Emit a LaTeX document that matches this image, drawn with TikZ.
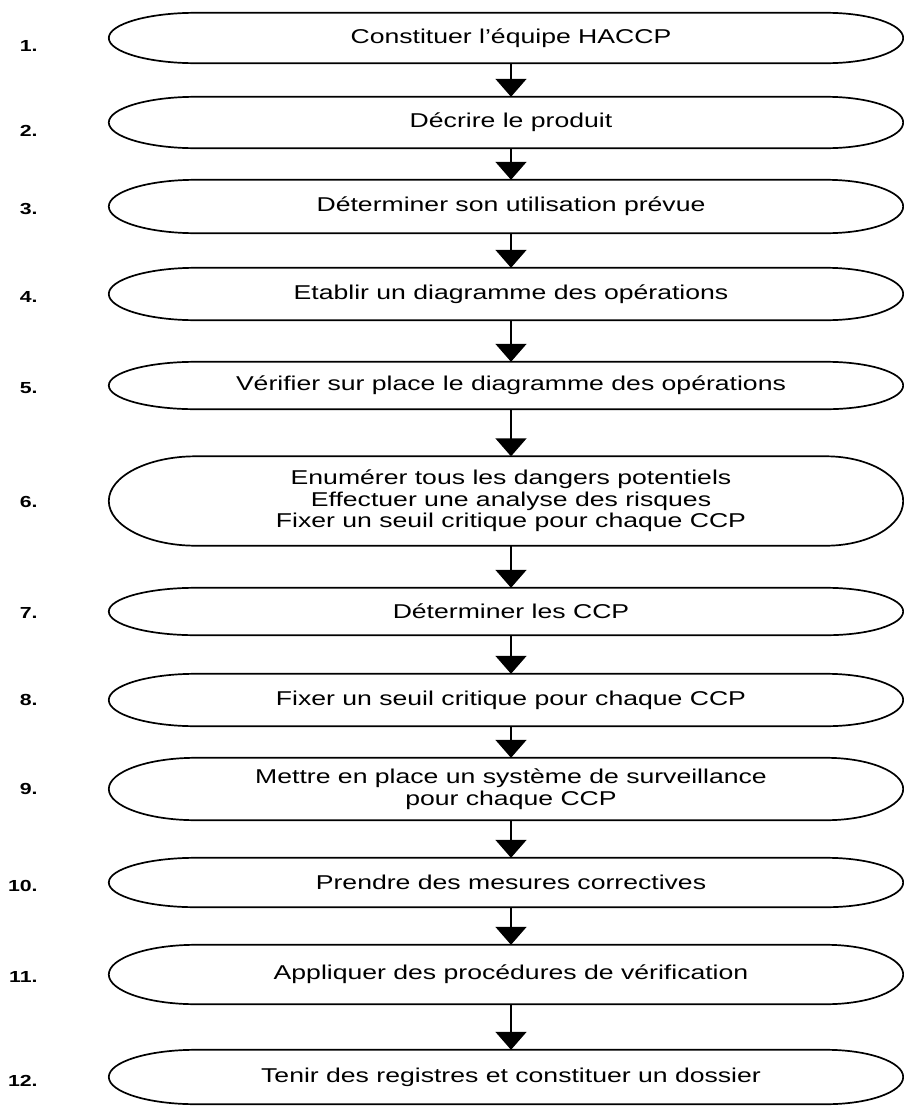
\documentclass[tikz,border=0pt]{standalone}
\usepackage{fontspec}
\setmainfont{Liberation Sans}[FakeStretch=1.33]
\usepackage{tikz}
\usetikzlibrary{arrows.meta, positioning, calc}

\begin{document}
\begin{tikzpicture}[
    x=1pt, y=1pt,
    stepbox/.style={minimum width=630pt, inner sep=0pt, align=center,
                    font=\fontsize{20}{21.5}\selectfont},
    num/.style={font=\bfseries\fontsize{16}{18}\selectfont, inner sep=0pt},
    outline/.style={line width=1.7pt},
    flow/.style={-{Triangle[width=31pt,length=18pt]}, line width=1.7pt},
]
\useasboundingbox (0,0) rectangle (904,-1106);
% Steps, one under the other (page measured in px, y downwards negative)
\node[stepbox, minimum height=50pt] (s1)  at (511,-38)    {Constituer l’équipe HACCP};
\node[stepbox, minimum height=51pt] (s2)  at (511,-122.5) {Décrire le produit};
\node[stepbox, minimum height=53pt] (s3)  at (511,-206.5) {Déterminer son utilisation prévue};
\node[stepbox, minimum height=52pt] (s4)  at (511,-294)   {Etablir un diagramme des opérations};
\node[stepbox, minimum height=47pt] (s5)  at (511,-385.5) {Vérifier sur place le diagramme des opérations};
\node[stepbox, minimum height=89pt] (s6)  at (511,-501)   {Enumérer tous les dangers potentiels\\
                                                            Effectuer une analyse des risques\\
                                                            Fixer un seuil critique pour chaque CCP};
\node[stepbox, minimum height=47pt] (s7)  at (511,-611.5) {Déterminer les CCP};
\node[stepbox, minimum height=52pt] (s8)  at (511,-700)   {Fixer un seuil critique pour chaque CCP};
\node[stepbox, minimum height=62pt] (s9)  at (511,-789)   {Mettre en place un système de surveillance\\pour chaque CCP};
\node[stepbox, minimum height=49pt] (s10) at (511,-882.5) {Prendre des mesures correctives};
\node[stepbox, minimum height=59pt] (s11) at (511,-974.5) {Appliquer des procédures de vérification};
\node[stepbox, minimum height=54pt] (s12) at (511,-1077)  {Tenir des registres et constituer un dossier};

% Rounded ends round each step
\foreach \s in {s1,s2,s3,s4,s5,s6,s7,s8,s9,s10,s11,s12}
  \draw[outline] let \p1=(\s.north west), \p2=(\s.south east), \n1={(\y1-\y2)/2} in
    (\p1) arc[start angle=90, end angle=270, x radius=87pt, y radius=\n1]
    -- (\p2) arc[start angle=-90, end angle=90, x radius=77pt, y radius=\n1] -- cycle;

% Step numbers on the left (first two sit a little low)
\foreach \i/\dy in {1/-8,2/-8,3/-2,4/-3,5/-3,6/-1,7/-1,8/0,9/0,10/-3,11/-2,12/-4}
  \node[num, left=158pt of s\i.west, yshift=\dy pt] (n\i) {\i.};

% Arrows between the steps
\foreach \a/\b in {s1/s2,s2/s3,s3/s4,s4/s5,s5/s6,s6/s7,s7/s8,s8/s9,s9/s10,s10/s11,s11/s12}
  \draw[flow] (\a) -- (\b);
\end{tikzpicture}
\end{document}
